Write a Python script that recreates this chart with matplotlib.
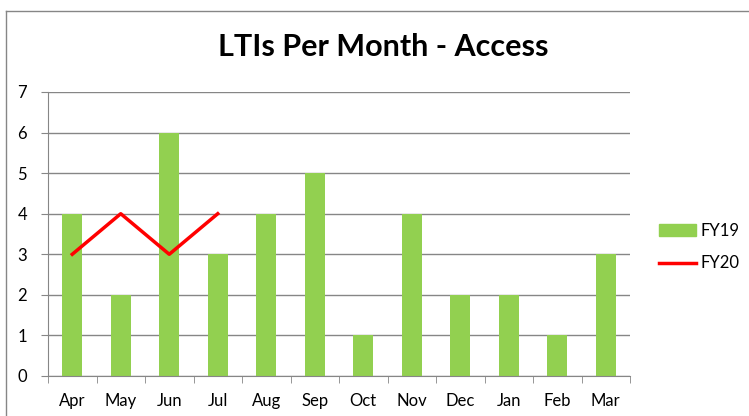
import numpy as np
import matplotlib.pyplot as plt
from matplotlib.lines import Line2D
from matplotlib.patches import Patch

months = ['Apr', 'May', 'Jun', 'Jul', 'Aug', 'Sep', 'Oct', 'Nov', 'Dec', 'Jan', 'Feb', 'Mar']
fy19 = [4, 2, 6, 3, 4, 5, 1, 4, 2, 2, 1, 3]
fy20 = [3, 4, 3, 4]

plt.rcParams['font.family'] = ['Lato', 'DejaVu Sans']

fig = plt.figure(figsize=(7.49, 4.16), dpi=100)
ax = fig.add_axes([48 / 749, 1 - 376 / 416, (630 - 48) / 749, (376 - 92) / 416])

x = np.arange(len(months))
ax.bar(x, fy19, width=0.42, color='#92D050', zorder=2)
ax.plot(x[:len(fy20)], fy20, color='#FF0000', linewidth=2.5, zorder=3)

ax.set_xlim(-0.5, len(months) - 0.5)
ax.set_ylim(0, 7)
ax.set_yticks(range(0, 8))
ax.set_xticks(x)
ax.set_xticklabels(months)
ax.set_xticks(np.arange(-0.5, len(months)), minor=True)
ax.tick_params(axis='x', which='major', length=0, pad=12, labelsize=12)
ax.tick_params(axis='x', which='minor', length=5, color='#868686')
ax.tick_params(axis='y', length=5, color='#868686', pad=10, labelsize=12)
ax.grid(axis='y', color='#868686', linewidth=1, zorder=0)
ax.set_axisbelow(True)
for s in ['top', 'right']:
    ax.spines[s].set_visible(False)
for s in ['left', 'bottom']:
    ax.spines[s].set_color('#868686')

fig.text(383 / 749, 1 - 47 / 416, 'LTIs Per Month - Access', ha='center', va='center',
         fontsize=22, fontweight='bold')

handles = [Patch(color='#92D050', label='FY19'),
           Line2D([], [], color='#FF0000', linewidth=2.5, label='FY20')]
fig.legend(handles=handles, loc='center left', bbox_to_anchor=(659 / 749, 1 - 247 / 416),
           frameon=False, fontsize=12, handlelength=2.2, labelspacing=1.0, handletextpad=0.3,
           borderpad=0, borderaxespad=0)

# outer chart border
fig.add_artist(Line2D([6 / 749, 6 / 749], [0, 1 - 11 / 416], transform=fig.transFigure, color='#868686', linewidth=1))
fig.add_artist(Line2D([6 / 749, 1], [1 - 11 / 416, 1 - 11 / 416], transform=fig.transFigure, color='#868686', linewidth=1))

fig.savefig('out.png', dpi=100)
